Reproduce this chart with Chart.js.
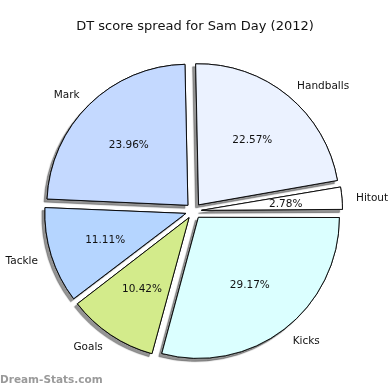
<!DOCTYPE html>
<html>
<head>
<meta charset="utf-8">
<script src="https://cdn.jsdelivr.net/npm/chart.js@4.4.1/dist/chart.umd.min.js"></script>
<style>
  body { margin: 0; background: #fff; }
  #wrap { width: 390px; height: 390px; }
</style>
</head>
<body>
<div id="wrap"><canvas id="chart-pie" width="390" height="390"></canvas></div>
<script>
const chartTitle = 'DT score spread for Sam Day (2012)'
const watermark = 'Dream-Stats.com'
const categories = ['Handballs', 'Hitout', 'Kicks', 'Goals', 'Tackle', 'Mark']
const dtPoints = [65, 8, 84, 30, 32, 69]
const sliceColors = ['#EBF2FF', '#FFFFFF', '#DBFFFF', '#D3EB8B', '#B5D5FF', '#C4D9FF']

const FONT = '"DejaVu Sans", sans-serif'
const EXPLODE = 8 // px each slice is pulled out

// matplotlib-ish look: drop shadows, outside labels, inner percentages
const piePlugin = {
  id: 'piePlugin',
  afterDatasetsUpdate(chart) {
    // chart.js grows small exploded arcs a bit, undo that so all slices share one radius
    const meta = chart.getDatasetMeta(0)
    meta.data.forEach(arc => {
      const fix = 1 - Math.sin(Math.min(Math.PI, arc.circumference || 0))
      arc.outerRadius = meta.controller.outerRadius - EXPLODE * fix
    })
  },
  beforeDatasetsDraw(chart) {
    const ctx = chart.ctx
    ctx.save()
    ctx.shadowColor = 'rgba(0,0,0,0.42)'
    ctx.shadowOffsetX = -3
    ctx.shadowOffsetY = 3
    ctx.shadowBlur = 1
    chart.getDatasetMeta(0).data.forEach(arc => arc.draw(ctx))
    ctx.restore()
  },
  afterDraw(chart) {
    const ctx = chart.ctx
    const meta = chart.getDatasetMeta(0)
    const r = meta.controller.outerRadius
    const total = dtPoints.reduce((a, b) => a + b, 0)

    ctx.save()
    ctx.fillStyle = '#111'
    ctx.textBaseline = 'middle'
    meta.data.forEach((arc, i) => {
      const mid = (arc.startAngle + arc.endAngle) / 2
      const cos = Math.cos(mid)
      const sin = Math.sin(mid)

      ctx.font = '10.5px ' + FONT
      const d1 = r * 1.1 + EXPLODE
      ctx.textAlign = cos > 0 ? 'left' : 'right'
      ctx.fillText(categories[i], arc.x + cos * d1, arc.y + sin * d1 + 1)

      const d2 = r * 0.6 + EXPLODE
      ctx.textAlign = 'center'
      ctx.fillText((dtPoints[i] / total * 100).toFixed(2) + '%', arc.x + cos * d2, arc.y + sin * d2 + 1)
    })

    ctx.font = '13px ' + FONT
    ctx.textAlign = 'center'
    ctx.fillText(chartTitle, chart.width / 2, 27)

    ctx.font = 'bold 10.5px ' + FONT
    ctx.fillStyle = '#9a9a9a'
    ctx.textAlign = 'left'
    ctx.fillText(watermark, 0, 380)
    ctx.restore()
  }
}

const ctx = document.getElementById('chart-pie').getContext('2d')
const pieChart = new Chart(ctx, {
  type: 'pie',
  data: {
    labels: categories,
    datasets: [{
      data: dtPoints,
      backgroundColor: sliceColors,
      borderColor: '#000',
      borderWidth: 0.9,
      offset: EXPLODE * 4 // arc element pulls out by offset / 4
    }]
  },
  options: {
    responsive: false,
    animation: false,
    radius: 141,
    rotation: -1.2,
    layout: { padding: { left: 0, right: 3, top: 32, bottom: 0 } },
    plugins: {
      legend: { display: false },
      title: { display: false },
      tooltip: { enabled: false }
    }
  },
  plugins: [piePlugin]
})
</script>
</body>
</html>
